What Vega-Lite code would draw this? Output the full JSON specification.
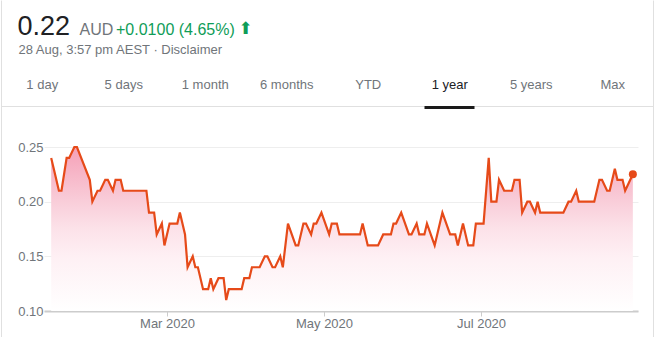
{
  "$schema": "https://vega.github.io/schema/vega-lite/v6.json",
  "width": 594,
  "height": 164,
  "autosize": {"type": "none"},
  "padding": {"left": 44, "top": 147, "right": 19, "bottom": 26},
  "background": "#ffffff",
  "config": {"view": {"stroke": null}, "font": "Liberation Sans", "axis": {"labelFont": "Liberation Sans"}},
  "datasets": {
    "prices": [
      {"date": "2020-01-16", "price": 0.24}, {"date": "2020-01-17", "price": 0.23}, {"date": "2020-01-19", "price": 0.21},
      {"date": "2020-01-20", "price": 0.21}, {"date": "2020-01-22", "price": 0.24}, {"date": "2020-01-23", "price": 0.24},
      {"date": "2020-01-25", "price": 0.25}, {"date": "2020-01-26", "price": 0.25}, {"date": "2020-01-31", "price": 0.22},
      {"date": "2020-02-01", "price": 0.20}, {"date": "2020-02-03", "price": 0.21}, {"date": "2020-02-04", "price": 0.21},
      {"date": "2020-02-06", "price": 0.22}, {"date": "2020-02-07", "price": 0.22}, {"date": "2020-02-09", "price": 0.21},
      {"date": "2020-02-10", "price": 0.22}, {"date": "2020-02-12", "price": 0.22}, {"date": "2020-02-13", "price": 0.21},
      {"date": "2020-02-22", "price": 0.21}, {"date": "2020-02-23", "price": 0.19}, {"date": "2020-02-25", "price": 0.19},
      {"date": "2020-02-26", "price": 0.17}, {"date": "2020-02-28", "price": 0.18}, {"date": "2020-02-29", "price": 0.16},
      {"date": "2020-03-02", "price": 0.18}, {"date": "2020-03-05", "price": 0.18}, {"date": "2020-03-06", "price": 0.19},
      {"date": "2020-03-08", "price": 0.17}, {"date": "2020-03-09", "price": 0.14}, {"date": "2020-03-11", "price": 0.15},
      {"date": "2020-03-12", "price": 0.14}, {"date": "2020-03-13", "price": 0.14}, {"date": "2020-03-15", "price": 0.12},
      {"date": "2020-03-17", "price": 0.12}, {"date": "2020-03-18", "price": 0.13}, {"date": "2020-03-19", "price": 0.12},
      {"date": "2020-03-21", "price": 0.13}, {"date": "2020-03-23", "price": 0.13}, {"date": "2020-03-24", "price": 0.11},
      {"date": "2020-03-25", "price": 0.12}, {"date": "2020-03-30", "price": 0.12}, {"date": "2020-03-31", "price": 0.13},
      {"date": "2020-04-02", "price": 0.13}, {"date": "2020-04-03", "price": 0.14}, {"date": "2020-04-06", "price": 0.14},
      {"date": "2020-04-08", "price": 0.15}, {"date": "2020-04-09", "price": 0.15}, {"date": "2020-04-11", "price": 0.14},
      {"date": "2020-04-12", "price": 0.14}, {"date": "2020-04-14", "price": 0.15}, {"date": "2020-04-15", "price": 0.14},
      {"date": "2020-04-17", "price": 0.18}, {"date": "2020-04-20", "price": 0.16}, {"date": "2020-04-21", "price": 0.16},
      {"date": "2020-04-23", "price": 0.18}, {"date": "2020-04-24", "price": 0.18}, {"date": "2020-04-26", "price": 0.17},
      {"date": "2020-04-27", "price": 0.18}, {"date": "2020-04-28", "price": 0.18}, {"date": "2020-04-30", "price": 0.19},
      {"date": "2020-05-03", "price": 0.17}, {"date": "2020-05-04", "price": 0.18}, {"date": "2020-05-06", "price": 0.18},
      {"date": "2020-05-07", "price": 0.17}, {"date": "2020-05-15", "price": 0.17}, {"date": "2020-05-16", "price": 0.18},
      {"date": "2020-05-18", "price": 0.16}, {"date": "2020-05-22", "price": 0.16}, {"date": "2020-05-24", "price": 0.17},
      {"date": "2020-05-27", "price": 0.17}, {"date": "2020-05-28", "price": 0.18}, {"date": "2020-05-29", "price": 0.18},
      {"date": "2020-05-31", "price": 0.19}, {"date": "2020-06-03", "price": 0.17}, {"date": "2020-06-04", "price": 0.17},
      {"date": "2020-06-06", "price": 0.18}, {"date": "2020-06-07", "price": 0.17}, {"date": "2020-06-09", "price": 0.17},
      {"date": "2020-06-10", "price": 0.18}, {"date": "2020-06-13", "price": 0.16}, {"date": "2020-06-15", "price": 0.18},
      {"date": "2020-06-16", "price": 0.19}, {"date": "2020-06-19", "price": 0.17}, {"date": "2020-06-21", "price": 0.17},
      {"date": "2020-06-22", "price": 0.16}, {"date": "2020-06-24", "price": 0.18}, {"date": "2020-06-26", "price": 0.16},
      {"date": "2020-06-28", "price": 0.16}, {"date": "2020-06-29", "price": 0.18}, {"date": "2020-07-02", "price": 0.18},
      {"date": "2020-07-04", "price": 0.24}, {"date": "2020-07-05", "price": 0.20}, {"date": "2020-07-07", "price": 0.20},
      {"date": "2020-07-08", "price": 0.22}, {"date": "2020-07-10", "price": 0.21}, {"date": "2020-07-13", "price": 0.21},
      {"date": "2020-07-14", "price": 0.22}, {"date": "2020-07-16", "price": 0.22}, {"date": "2020-07-17", "price": 0.19},
      {"date": "2020-07-19", "price": 0.20}, {"date": "2020-07-20", "price": 0.20}, {"date": "2020-07-22", "price": 0.19},
      {"date": "2020-07-23", "price": 0.20}, {"date": "2020-07-24", "price": 0.19}, {"date": "2020-08-02", "price": 0.19},
      {"date": "2020-08-04", "price": 0.20}, {"date": "2020-08-05", "price": 0.20}, {"date": "2020-08-07", "price": 0.21},
      {"date": "2020-08-08", "price": 0.20}, {"date": "2020-08-14", "price": 0.20}, {"date": "2020-08-16", "price": 0.22},
      {"date": "2020-08-17", "price": 0.22}, {"date": "2020-08-19", "price": 0.21}, {"date": "2020-08-20", "price": 0.21},
      {"date": "2020-08-22", "price": 0.23}, {"date": "2020-08-23", "price": 0.22}, {"date": "2020-08-25", "price": 0.22},
      {"date": "2020-08-26", "price": 0.21}, {"date": "2020-08-27", "price": 0.215}, {"date": "2020-08-29", "price": 0.225}
    ],
    "tabs": [
      {"tab": "1 day"}, {"tab": "5 days"}, {"tab": "1 month"}, {"tab": "6 months"},
      {"tab": "YTD"}, {"tab": "1 year"}, {"tab": "5 years"}, {"tab": "Max"}
    ]
  },
  "resolve": {"scale": {"x": "independent", "y": "independent"}},
  "layer": [
    {
      "data": {"name": "prices"},
      "encoding": {
        "x": {
          "field": "date", "type": "temporal",
          "scale": {"type": "utc", "domain": [{"year": 2020, "month": 1, "date": 13, "hours": 5, "utc": true}, {"year": 2020, "month": 8, "date": 31, "utc": true}]},
          "axis": {
            "values": [{"year": 2020, "month": 3, "date": 1, "utc": true}, {"year": 2020, "month": 5, "date": 1, "utc": true}, {"year": 2020, "month": 7, "date": 1, "utc": true}],
            "format": "%b %Y", "title": null, "grid": false, "labelFontSize": 13, "labelColor": "#70757a",
            "domainColor": "#cccccc", "domainWidth": 2, "tickColor": "#cccccc", "tickSize": 5, "labelPadding": 1,
            "labelFlush": false, "labelOverlap": false
          }
        },
        "y": {
          "field": "price", "type": "quantitative",
          "scale": {"domain": [0.1, 0.25], "nice": false, "zero": false},
          "axis": {
            "values": [0.1, 0.15, 0.2, 0.25], "format": ".2f", "title": null, "domain": false, "ticks": false, "tickSize": 0,
            "labelPadding": 1, "labelFontSize": 13, "labelColor": "#70757a", "grid": true, "gridColor": "#eeeeee"
          }
        }
      },
      "layer": [
        {
          "mark": {
            "type": "area",
            "color": {"gradient": "linear", "x1": 0, "y1": 0, "x2": 0, "y2": 1,
              "stops": [
                {"offset": 0, "color": "#f5a0b7"}, {"offset": 0.33, "color": "#f9cdd9"},
                {"offset": 0.5, "color": "#fce2e9"}, {"offset": 0.67, "color": "#fef0f4"}, {"offset": 1, "color": "#ffffff"}
              ]}
          },
          "encoding": {"y2": {"datum": 0.1}}
        },
        {"mark": {"type": "line", "color": "#e64a19", "strokeWidth": 2.2}},
        {
          "transform": [{"filter": {"field": "date", "equal": {"year": 2020, "month": 8, "date": 29, "utc": true}}}],
          "mark": {"type": "point", "filled": true, "size": 64, "color": "#e64a19", "opacity": 1}
        }
      ]
    },
    {
      "data": {"name": "tabs"},
      "mark": {"type": "point", "opacity": 0},
      "encoding": {
        "x": {
          "field": "tab", "type": "nominal",
          "scale": {"type": "point", "domain": ["1 day", "5 days", "1 month", "6 months", "YTD", "1 year", "5 years", "Max"], "range": [-43, 609], "padding": 0.5},
          "axis": {
            "orient": "top", "offset": 41, "title": null, "grid": false, "ticks": false, "tickSize": 0,
            "labelPadding": 18, "labelBaseline": "alphabetic", "labelAngle": 0, "labelFontSize": 13, "labelLimit": 0, "labelOverlap": false,
            "labelColor": {"condition": {"test": "datum.value === '1 year'", "value": "#202124"}, "value": "#70757a"},
            "domainColor": "#e0e0e0", "domainWidth": 1
          }
        },
        "y": {
          "field": "tab", "type": "nominal",
          "scale": {"type": "point", "domain": ["1 day", "5 days", "1 month", "6 months", "YTD", "1 year", "5 years", "Max"], "range": [-147, 190], "padding": 0},
          "axis": {"orient": "left", "offset": 43, "title": null, "labels": false, "ticks": false, "grid": false, "domainColor": "#e0e0e0", "domainWidth": 1}
        }
      }
    },
    {
      "data": {"name": "tabs"},
      "transform": [{"filter": "datum.tab === '1 year'"}],
      "mark": {"type": "point", "opacity": 0},
      "encoding": {
        "x": {
          "field": "tab", "type": "nominal",
          "scale": {"type": "point", "domain": ["1 year"], "range": [380, 430], "padding": 0},
          "axis": {"orient": "top", "offset": 40, "title": null, "labels": false, "ticks": false, "grid": false, "domainColor": "#1a1a1a", "domainWidth": 3}
        },
        "y": {
          "field": "tab", "type": "nominal",
          "scale": {"type": "point", "domain": ["1 year"], "range": [-147, 190], "padding": 0},
          "axis": {"orient": "right", "offset": 15, "title": null, "labels": false, "ticks": false, "grid": false, "domainColor": "#e0e0e0", "domainWidth": 1}
        }
      }
    },
    {
      "data": {"values": [{"quote": "0.22"}]},
      "mark": {"type": "point", "opacity": 0},
      "encoding": {
        "x": {
          "field": "quote", "type": "nominal",
          "scale": {"type": "point", "domain": ["0.22"], "range": [-27, -27], "padding": 0},
          "axis": {"orient": "top", "offset": 112.7, "title": null, "domain": false, "ticks": false, "tickSize": 0, "grid": false,
            "labelPadding": 0, "labelBaseline": "alphabetic", "labelAlign": "left", "labelAngle": 0, "labelLimit": 0,
            "labelFontSize": 27, "labelColor": "#202124"}
        }
      }
    },
    {
      "data": {"values": [{"currency": "AUD"}]},
      "mark": {"type": "point", "opacity": 0},
      "encoding": {
        "x": {
          "field": "currency", "type": "nominal",
          "scale": {"type": "point", "domain": ["AUD"], "range": [35, 35], "padding": 0},
          "axis": {"orient": "top", "offset": 112.7, "title": null, "domain": false, "ticks": false, "tickSize": 0, "grid": false,
            "labelPadding": 0, "labelBaseline": "alphabetic", "labelAlign": "left", "labelAngle": 0, "labelLimit": 0,
            "labelFontSize": 16, "labelColor": "#70757a"}
        }
      }
    },
    {
      "data": {"values": [{"change": "+0.0100 (4.65%)"}]},
      "mark": {"type": "point", "opacity": 0},
      "encoding": {
        "x": {
          "field": "change", "type": "nominal",
          "scale": {"type": "point", "domain": ["+0.0100 (4.65%)"], "range": [71.5, 71.5], "padding": 0},
          "axis": {"orient": "top", "offset": 112.7, "title": null, "domain": false, "ticks": false, "tickSize": 0, "grid": false,
            "labelPadding": 0, "labelBaseline": "alphabetic", "labelAlign": "left", "labelAngle": 0, "labelLimit": 0,
            "labelFontSize": 16, "labelColor": "#0f9d58"}
        }
      }
    },
    {
      "data": {"values": [{"direction": "⬆"}]},
      "mark": {"type": "point", "opacity": 0},
      "encoding": {
        "x": {
          "field": "direction", "type": "nominal",
          "scale": {"type": "point", "domain": ["⬆"], "range": [194, 194], "padding": 0},
          "axis": {"orient": "top", "offset": 113.5, "title": null, "domain": false, "ticks": false, "tickSize": 0, "grid": false,
            "labelPadding": 0, "labelBaseline": "alphabetic", "labelAlign": "left", "labelAngle": 0, "labelLimit": 0,
            "labelFontSize": 17, "labelFont": "DejaVu Sans", "labelColor": "#0f9d58"}
        }
      }
    },
    {
      "data": {"values": [{"stamp": "28 Aug, 3:57 pm AEST · Disclaimer"}]},
      "mark": {"type": "point", "opacity": 0},
      "encoding": {
        "x": {
          "field": "stamp", "type": "nominal",
          "scale": {"type": "point", "domain": ["28 Aug, 3:57 pm AEST · Disclaimer"], "range": [-26, -26], "padding": 0},
          "axis": {"orient": "top", "offset": 93.7, "title": null, "domain": false, "ticks": false, "tickSize": 0, "grid": false,
            "labelPadding": 0, "labelBaseline": "alphabetic", "labelAlign": "left", "labelAngle": 0, "labelLimit": 0,
            "labelFontSize": 13, "labelColor": "#70757a"}
        }
      }
    }
  ]
}
